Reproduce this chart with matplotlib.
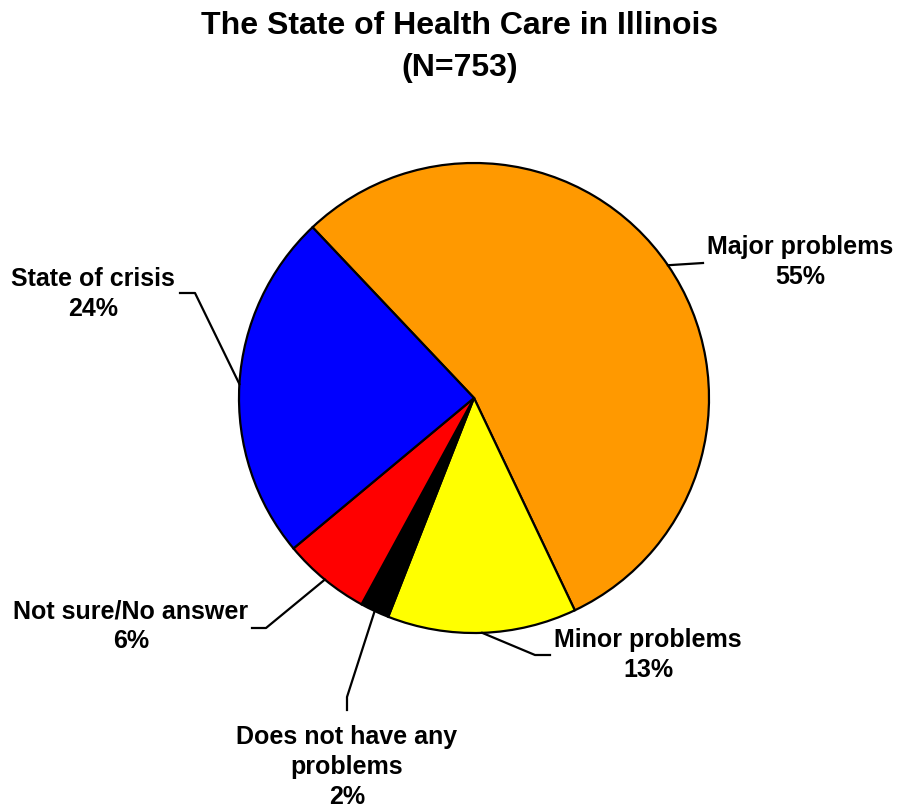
import numpy as np
import matplotlib.pyplot as plt

plt.rcParams['font.family'] = ['Liberation Sans', 'DejaVu Sans']
plt.rcParams['font.weight'] = 'bold'

labels = ['Major problems', 'Minor problems', 'Does not have any\nproblems',
          'Not sure/No answer', 'State of crisis']
values = [55, 13, 2, 6, 24]
colors = ['#FF9900', '#FFFF00', '#000000', '#FF0000', '#0000FF']

# label text centres and leader-line elbows, in pixel units (y measured from top)
label_pos = [(800, 262), (648, 655), (347, 767), (131, 626), (93, 294)]
leader_pts = [
    [(703, 263)],
    [(550, 655), (535, 655)],
    [(347, 710), (347, 697)],
    [(252, 628), (266, 628)],
    [(180, 293), (195, 293)],
]

W, H = 900, 810
cx, cy, R = 474, 398, 235
start = 133.4

fig = plt.figure(figsize=(9, 8.1), dpi=100)
ax = fig.add_axes([0, 0, 1, 1])

wedges, _ = ax.pie(values, colors=colors, startangle=start, counterclock=False,
                   center=(cx, H - cy), radius=R,
                   wedgeprops=dict(edgecolor='black', linewidth=1.6))
ax.set_xlim(0, W)
ax.set_ylim(0, H)
ax.set_aspect('equal')
ax.axis('off')

for w, lab, v, pos, pts in zip(wedges, labels, values, label_pos, leader_pts):
    mid = np.deg2rad((w.theta1 + w.theta2) / 2)
    ex, ey = cx + R * np.cos(mid), (H - cy) + R * np.sin(mid)
    xs = [p[0] for p in pts] + [ex]
    ys = [H - p[1] for p in pts] + [ey]
    ax.plot(xs, ys, color='black', lw=1.6)
    ax.text(pos[0], H - pos[1], f'{lab}\n{v}%', ha='center', va='center',
            fontsize=18, fontweight='bold', linespacing=1.3)

ax.text(460, H - 47, 'The State of Health Care in Illinois\n(N=753)', ha='center',
        va='center', fontsize=23, fontweight='bold', linespacing=1.55)

fig.savefig('out.png', dpi=100)
